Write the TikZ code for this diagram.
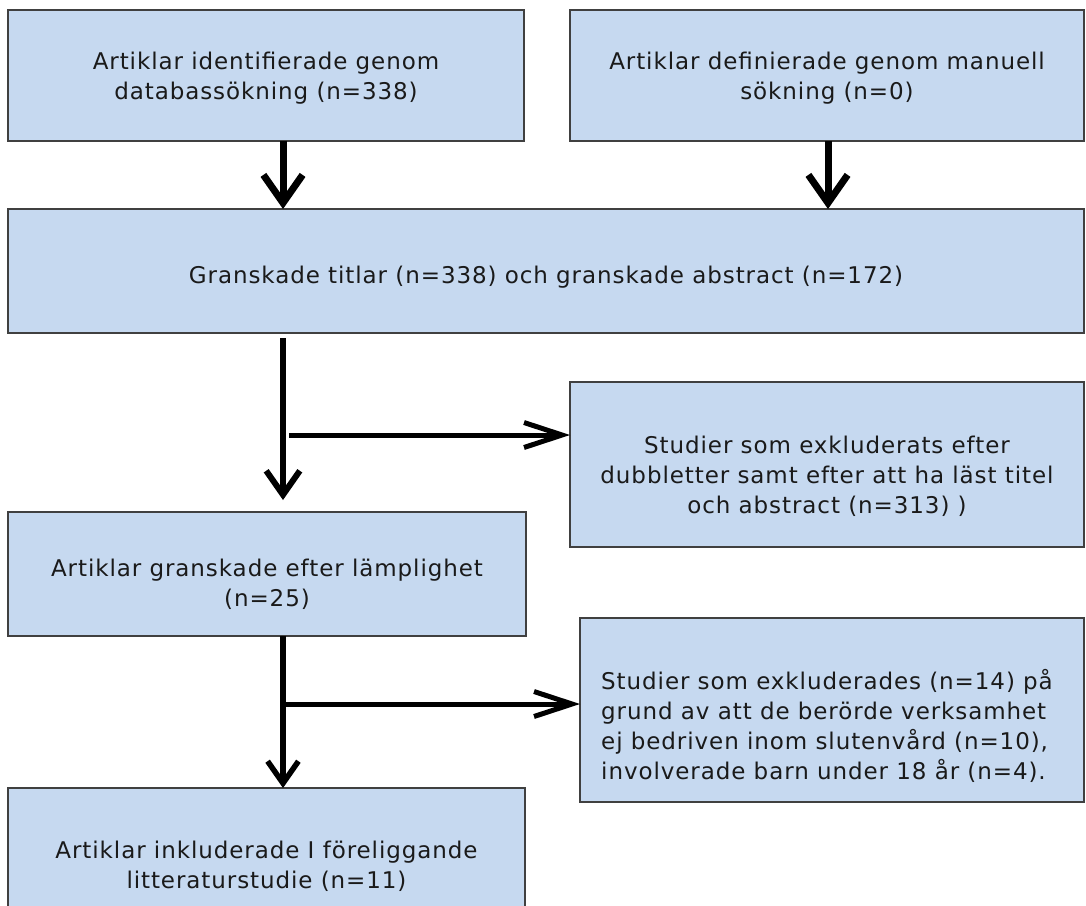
\documentclass[tikz,border=0pt]{standalone}
\usepackage{fontspec}
\newfontfamily\dfont[LetterSpace=4]{DejaVu Sans}
\usetikzlibrary{arrows.meta,calc}
\definecolor{boxblue}{HTML}{C6D9F0}
\definecolor{boxline}{HTML}{404040}
\definecolor{txt}{HTML}{1A1A1A}
\tikzset{
  box/.style={draw=boxline, line width=1.5pt, fill=boxblue, inner sep=0pt, outer sep=0pt,
    anchor=north west},
  lbl/.style={inner sep=0pt, align=center, text=txt, font=\dfont\fontsize{23}{30}\selectfont},
  conn/.style={draw=black, line width=#1, -{Straight Barb[length=#1*4,width=#1*5.6]}},
  side/.style={draw=black, line width=5pt, -{Straight Barb[length=38pt,width=25pt]}},
}
\begin{document}
\begin{tikzpicture}[x=1pt,y=-1pt]
\useasboundingbox (0,0) rectangle (1086,905);
\clip (0,0) rectangle (1086,905);

\node[box, minimum width=516pt, minimum height=131pt,
  label={[lbl, yshift=-3pt]center:{Artiklar identifierade genom\\databassökning (n=338)}}] (b1) at (8,10) {};
\node[box, minimum width=514pt, minimum height=131pt,
  label={[lbl, yshift=-3pt]center:{Artiklar definierade genom manuell\\sökning (n=0)}}] (b2) at (570,10) {};
\node[box, minimum width=1076pt, minimum height=124pt,
  label={[lbl, yshift=-6pt]center:{Granskade titlar (n=338) och granskade abstract (n=172)}}] (b3) at (8,209) {};
\node[box, minimum width=514pt, minimum height=165pt,
  label={[lbl, yshift=-12pt]center:{Studier som exkluderats efter\\dubbletter samt efter att ha läst titel\\och abstract (n=313) )}}] (b4) at (570,382) {};
\node[box, minimum width=518pt, minimum height=124pt,
  label={[lbl, yshift=-10pt]center:{Artiklar granskade efter lämplighet\\(n=25)}}] (b5) at (8,512) {};
\node[box, minimum width=504pt, minimum height=184pt,
  label={[lbl, align=left, anchor=west, xshift=21pt, yshift=-16pt]west:{Studier som exkluderades (n=14) på\\grund av att de berörde verksamhet\\ej bedriven inom slutenvård (n=10),\\involverade barn under 18 år (n=4).}}] (b6) at (580,618) {};
\node[box, minimum width=517pt, minimum height=144pt,
  label={[lbl, yshift=-6pt]center:{Artiklar inkluderade I föreliggande\\litteraturstudie (n=11)}}] (b7) at (8,788) {};

\coordinate (xa) at (283,0);
\coordinate (xb) at (828,0);
\coordinate (ya) at (0,435);
\coordinate (yb) at (0,704);

\draw[conn=7pt] (b1.south -| xa) -- (b3.north -| xa);
\draw[conn=7pt] (b2.south -| xb) -- (b3.north -| xb);
\draw[conn=6pt] ($(b3.south -| xa)+(0,5)$) -- ($(b5.north -| xa)+(0,-12)$);
\draw[side] ($(xa |- ya)+(6,0)$) -- (b4.west |- ya);
\draw[conn=5.5pt] (b5.south -| xa) -- (b7.north -| xa);
\draw[side] ($(xa |- yb)+(-2.5,0)$) -- (b6.west |- yb);
\end{tikzpicture}
\end{document}
